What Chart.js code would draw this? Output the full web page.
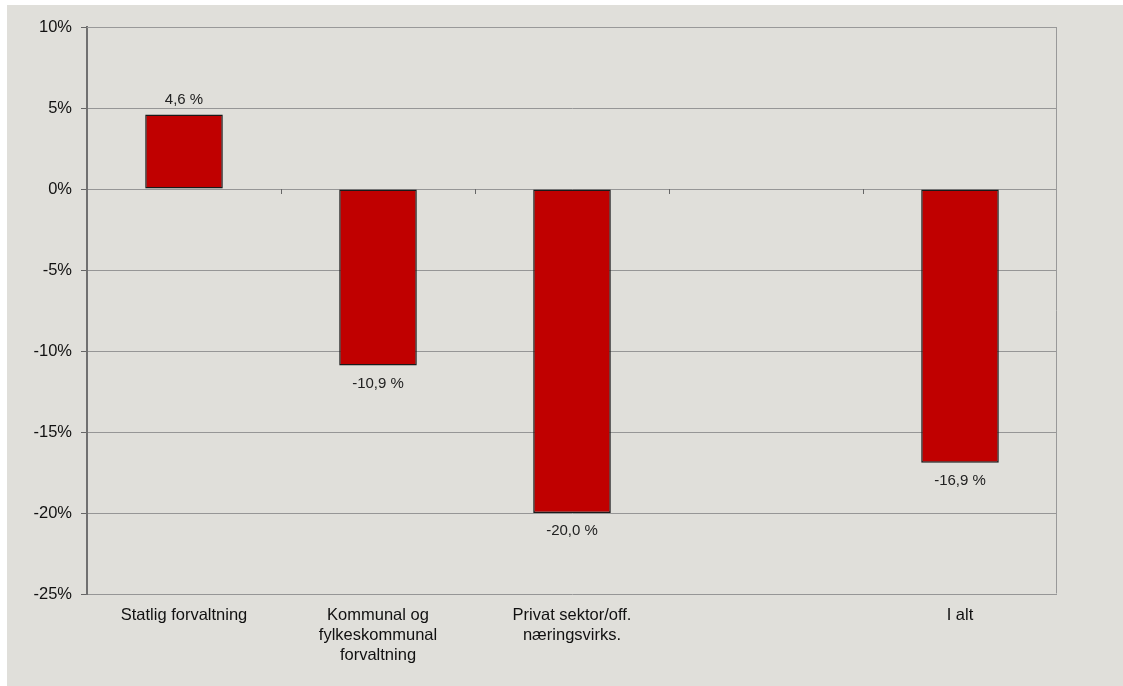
<!DOCTYPE html>
<html>
<head>
<meta charset="utf-8">
<script src="https://cdn.jsdelivr.net/npm/chart.js@4/dist/chart.umd.min.js"></script>
<style>
  html, body { margin: 0; padding: 0; background: #fff; }
  #wrap { position: absolute; left: 7px; top: 5px; width: 1116px; height: 681px; background: #e0dfda; }
  canvas { display: block; }
</style>
</head>
<body>
<div id="wrap"><canvas id="chart" width="1116" height="681"></canvas></div>
<script>
// categories and values (percent change)
const categories = [
  'Statlig forvaltning',
  ['Kommunal og', 'fylkeskommunal', 'forvaltning'],
  ['Privat sektor/off.', 'næringsvirks.'],
  '',
  'I alt'
];
const changes = [4.6, -10.9, -20.0, null, -16.9];
const yTicks = { min: -25, max: 10, step: 5 };

const fontName = '"Liberation Sans", Arial, sans-serif';

// value labels like "4,6 %"
const valueLabels = {
  id: 'valueLabels',
  afterDatasetsDraw(chart) {
    const ctx = chart.ctx;
    const meta = chart.getDatasetMeta(0);
    ctx.save();
    ctx.font = '15px ' + fontName;
    ctx.fillStyle = '#222';
    ctx.textAlign = 'center';
    ctx.textBaseline = 'middle';
    meta.data.forEach((bar, i) => {
      const v = changes[i];
      if (v === null) return;
      const txt = v.toFixed(1).replace('.', ',') + ' %';
      const y = v >= 0 ? bar.y - 15 : bar.y + 18;
      ctx.fillText(txt, bar.x, y);
    });
    ctx.restore();
  }
};

// plot frame + small category ticks on the zero line
const frame = {
  id: 'frame',
  afterDraw(chart) {
    const { ctx, chartArea: a, scales } = chart;
    ctx.save();
    ctx.strokeStyle = '#999';
    ctx.lineWidth = 1;
    ctx.beginPath();
    ctx.moveTo(a.left, a.top + 0.5);
    ctx.lineTo(a.right - 0.5, a.top + 0.5);
    ctx.lineTo(a.right - 0.5, a.bottom - 0.5);
    ctx.stroke();
    const y0 = Math.round(scales.y.getPixelForValue(0));
    ctx.strokeStyle = '#666';
    for (let i = 1; i < categories.length; i++) {
      const x = Math.round((scales.x.getPixelForValue(i - 1) + scales.x.getPixelForValue(i)) / 2) + 0.5;
      ctx.beginPath();
      ctx.moveTo(x, y0);
      ctx.lineTo(x, y0 + 5);
      ctx.stroke();
    }
    ctx.restore();
  }
};

new Chart(document.getElementById('chart'), {
  type: 'bar',
  data: {
    labels: categories,
    datasets: [{
      data: changes,
      backgroundColor: '#c00000',
      borderColor: '#1a1a1a',
      borderWidth: 1.5,
      borderSkipped: false,
      categoryPercentage: 1,
      barPercentage: 0.4
    }]
  },
  options: {
    responsive: false,
    animation: false,
    layout: { padding: { left: 0, top: 22, right: 66, bottom: 0 } },
    plugins: { legend: { display: false }, tooltip: { enabled: false } },
    scales: {
      x: {
        grid: { display: false, drawTicks: false, tickLength: 0 },
        border: { display: false },
        ticks: {
          autoSkip: false, maxRotation: 0, padding: 12,
          color: '#111',
          font: { family: fontName, size: 16.5, lineHeight: 1.2 }
        },
        afterFit(s) { s.height = 92; }
      },
      y: {
        min: yTicks.min, max: yTicks.max,
        grid: { color: '#969696', lineWidth: 1, tickLength: 6, tickColor: '#666' },
        border: { color: '#707070', width: 2 },
        ticks: {
          stepSize: yTicks.step, padding: 9,
          color: '#111',
          font: { family: fontName, size: 16.5 },
          callback: v => v + '%'
        },
        afterFit(s) { s.width = 80; }
      }
    }
  },
  plugins: [valueLabels, frame]
});
</script>
</body>
</html>
